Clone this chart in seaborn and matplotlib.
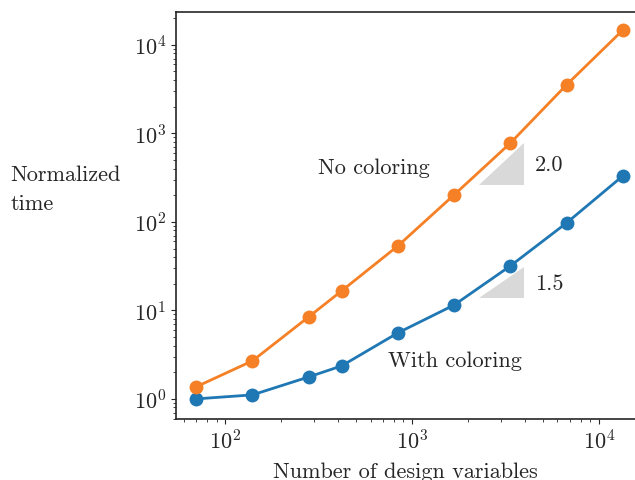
import numpy as np
import pandas as pd
import matplotlib
matplotlib.use("Agg")
import matplotlib.pyplot as plt
import seaborn as sns

# data
n_vars = [70, 140, 280, 420, 840, 1680, 3360, 6720, 13440]
time_no_coloring = [1.37, 2.69, 8.45, 16.6, 53.5, 202, 777, 3540, 14700]
time_with_coloring = [1.0, 1.11, 1.77, 2.36, 5.57, 11.5, 31.8, 97.4, 331]

# slope triangles: (x left, x right, y bottom, slope)
tri_x = [2290, 3950]
tri_upper_y = 262
tri_lower_y = 13.8
slopes = [2.0, 1.5]

sns.set_style("ticks")
plt.rcParams["font.family"] = ["cmr10", "DejaVu Serif"]
plt.rcParams["mathtext.fontset"] = "cm"
plt.rcParams["axes.formatter.use_mathtext"] = True
plt.rcParams["font.size"] = 16

df = pd.DataFrame({
    "n": n_vars * 2,
    "time": time_with_coloring + time_no_coloring,
    "case": ["With coloring"] * len(n_vars) + ["No coloring"] * len(n_vars),
})

fig = plt.figure(figsize=(6.35, 4.81), dpi=100)
ax = fig.add_axes([0.277, 0.127, 0.723, 0.846])

sns.lineplot(data=df, x="n", y="time", hue="case",
             palette={"With coloring": "#1f77b4", "No coloring": "#f58025"},
             hue_order=["With coloring", "No coloring"],
             marker="o", markersize=10, markeredgewidth=0,
             linewidth=2, legend=False, ax=ax)

ax.set_xscale("log")
ax.set_yscale("log")
ax.set_xlim(54.5, 15600)
ax.set_ylim(0.594, 23500)

# slope triangles
for y0, s in zip([tri_upper_y, tri_lower_y], slopes):
    x0, x1 = tri_x
    y1 = y0 * (x1 / x0) ** s
    ax.fill([x0, x1, x1], [y0, y0, y1], color="#d9d9d9", lw=0, zorder=1)

ax.text(313, 419, "No coloring", va="center", ha="left", fontsize=16)
ax.text(743, 2.76, "With coloring", va="center", ha="left", fontsize=16)
ax.text(4530, 452, "2.0", va="center", ha="left", fontsize=16)
ax.text(4530, 20.4, "1.5", va="center", ha="left", fontsize=16)

ax.set_xlabel("Number of design variables", fontsize=16, labelpad=6)
ax.set_ylabel("Normalized\ntime", rotation=0, ha="left", va="center",
              fontsize=16, multialignment="left", linespacing=1.6)
ax.yaxis.set_label_coords(-0.36, 0.565)
ax.tick_params(labelsize=16)

for sp in ["left", "bottom", "top"]:
    ax.spines[sp].set_linewidth(1.2)
ax.spines["right"].set_visible(False)

fig.savefig("out.png", dpi=100)
